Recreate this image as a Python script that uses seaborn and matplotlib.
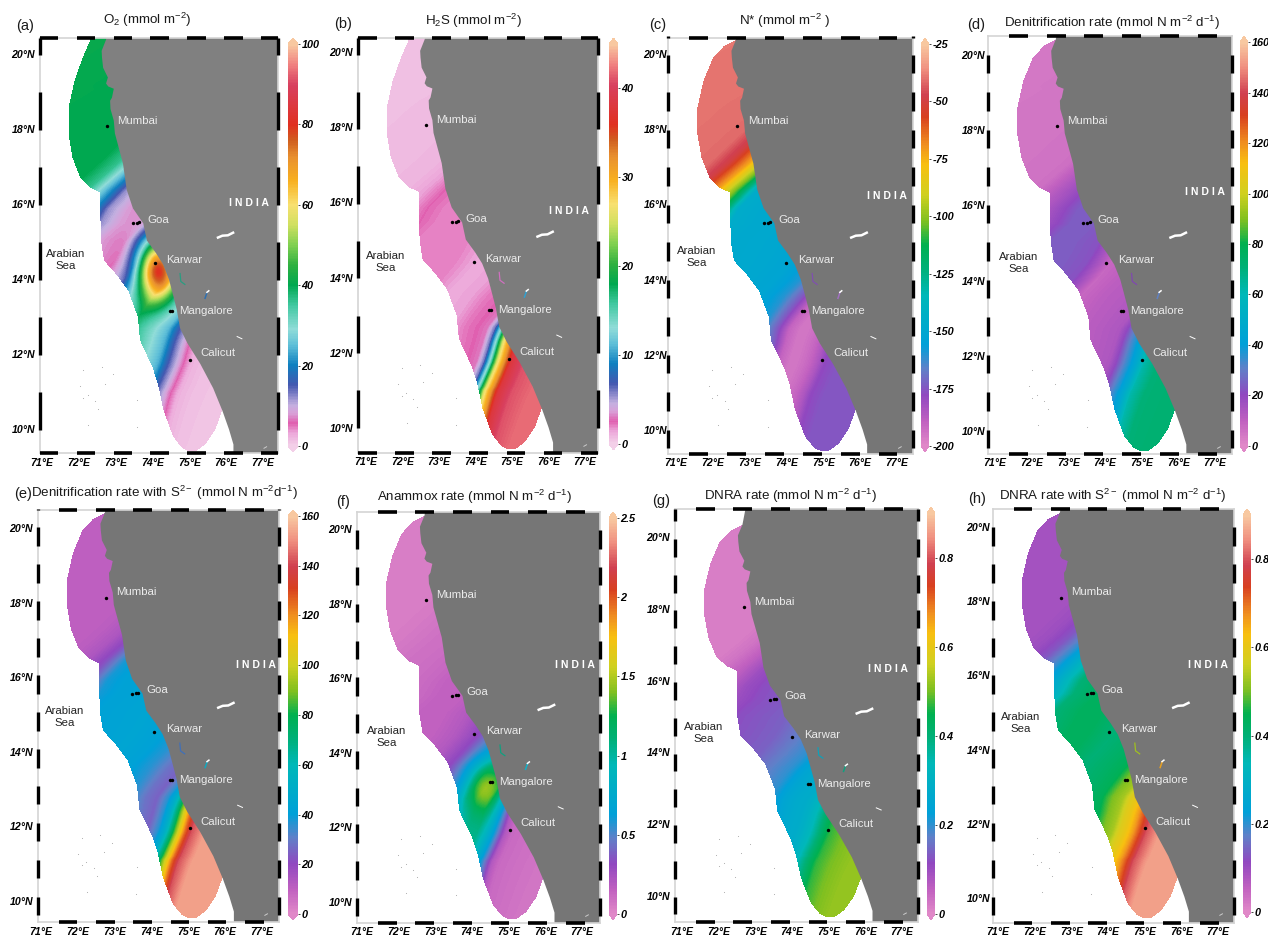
import numpy as np
import matplotlib
matplotlib.use("Agg")
import matplotlib.pyplot as plt
import seaborn as sns
from matplotlib.colors import LinearSegmentedColormap
from matplotlib.path import Path
from matplotlib.transforms import Affine2D, ScaledTranslation

plt.rcParams["font.family"] = ["Liberation Sans", "DejaVu Sans"]
plt.rcParams["mathtext.fontset"] = "custom"
plt.rcParams["mathtext.rm"] = "Liberation Sans"
plt.rcParams["mathtext.it"] = "Liberation Sans:italic"
plt.rcParams["mathtext.bf"] = "Liberation Sans:bold"
plt.rcParams["mathtext.default"] = "regular"

W, H = 1268, 936

# coastline (south to north)
coast_lat = [9.0, 9.6, 10.0, 10.5, 11.1, 11.75, 12.3, 12.7, 13.2, 13.7, 14.0, 14.4, 14.7, 15.04, 15.5, 15.9, 16.4, 17.09,
             17.9, 18.24, 18.55, 18.77, 18.85, 19.09, 19.15, 19.23, 19.39, 19.65, 19.92, 20.1, 20.4, 21.0]
coast_lon = [76.2, 76.2, 76.08, 75.9, 75.65, 75.3, 74.95, 74.75, 74.66, 74.53, 74.45, 74.29, 74.1, 73.85, 73.75, 73.47,
             73.3, 73.2, 72.98, 72.95, 72.86, 72.85, 72.9, 72.95, 72.8, 72.74, 72.79, 72.66, 72.63, 72.62, 72.74, 72.85]

# open-sea edge of the coloured domain, north lobe to the tip of the south lobe
edge_lat = [19.31, 18.59, 17.89, 17.25, 16.72, 16.45, 16.32, 16.1, 15.65, 15.0, 14.5, 14.15, 13.7, 13.0,
            12.37, 11.65, 11.2, 10.5, 9.8, 9.5, 9.4, 9.42, 9.6, 10.0, 10.5]
edge_lon = [71.87, 71.71, 71.71, 71.82, 72.03, 72.3, 72.58, 72.58, 72.58, 72.6, 72.68, 73.0, 73.34, 73.6,
            73.66, 74.0, 74.15, 74.3, 74.56, 74.8, 75.0, 75.2, 75.45, 75.72, 75.9]
tip_lat_ab = [20.5, 20.4, 19.92]
tip_lon_ab = [72.28, 72.3, 72.09]
tip_lat = [20.39, 20.25, 19.92]
tip_lon = [72.7, 72.42, 72.12]

# values along the coast, per panel
station_lat = [9.5, 11, 11.6, 12, 12.2, 12.4, 12.6, 12.8, 13, 13.3, 13.6, 14, 14.5, 15, 15.5, 16, 16.4, 16.8, 17.2, 17.6, 18, 19, 21]
vals_a = [0.5, 1, 1.5, 2.5, 5, 9, 13, 18, 24, 28, 32, 38, 26, 12, 6, 8, 12, 24, 36, 40, 40, 40, 41]
vals_b = [42, 42, 41, 38, 32, 26, 14, 6, 3, 2.5, 2.2, 1.5, 1.3, 2, 2, 2, 2.5, 1.5, 1, 0.9, 0.8, 0.7, 0.7]
vals_c = [-175, -175, -175, -178, -185, -190, -193, -195, -195, -190, -175, -160, -152, -150, -149, -148, -146, -105, -72, -50, -41, -40, -39]
vals_d = [72, 72, 71, 62, 48, 38, 30, 20, 14, 13, 12, 11, 8, 22, 24, 24, 18, 12, 6, 5, 5, 4.5, 4]
vals_e = [153, 153, 153, 142, 125, 100, 72, 50, 36, 25, 28, 36, 42, 44, 43, 42, 38, 22, 14, 11, 10, 10, 10]
vals_f = [0.05, 0.08, 0.1, 0.12, 0.2, 0.45, 0.7, 0.9, 1.05, 1.05, 0.95, 0.6, 0.32, 0.2, 0.15, 0.15, 0.12, 0.1, 0.09, 0.07, 0.05, 0.04, 0.04]
vals_g = [0.52, 0.52, 0.5, 0.47, 0.43, 0.38, 0.33, 0.3, 0.28, 0.27, 0.25, 0.2, 0.17, 0.14, 0.13, 0.12, 0.1, 0.06, 0.03, 0.015, 0.015, 0.015, 0.015]
vals_h = [0.86, 0.86, 0.86, 0.8, 0.73, 0.66, 0.61, 0.58, 0.53, 0.5, 0.44, 0.42, 0.4, 0.43, 0.43, 0.4, 0.3, 0.2, 0.13, 0.1, 0.09, 0.09, 0.09]

# local maxima that do not follow the coast: lon, lat, amplitude, width lon, width lat
hot_a = [74.12, 14.3, 52, 0.36, 0.55]
hot_f = [74.35, 13.0, 0.4, 0.35, 0.5]

titles = [r"O$_2$ (mmol m$^{-2}$)", r"H$_2$S (mmol m$^{-2}$)", r"N* (mmol m$^{-2}$ )",
          r"Denitrification rate (mmol N m$^{-2}$ d$^{-1}$)",
          r"Denitrification rate with S$^{2-}$ (mmol N m$^{-2}$d$^{-1}$)",
          r"Anammox rate (mmol N m$^{-2}$ d$^{-1}$)", r"DNRA rate (mmol N m$^{-2}$ d$^{-1}$)",
          r"DNRA rate with S$^{2-}$ (mmol N m$^{-2}$ d$^{-1}$)"]
letters = ["(a)", "(b)", "(c)", "(d)", "(e)", "(f)", "(g)", "(h)"]
cbar_lims = [(0, 100), (0, 45), (-200, -25), (0, 160), (0, 160), (0, 2.5), (0, 0.9), (0, 0.9)]
cbar_ticks = [[0, 20, 40, 60, 80, 100], [0, 10, 20, 30, 40], [-200, -175, -150, -125, -100, -75, -50, -25],
              [0, 20, 40, 60, 80, 100, 120, 140, 160], [0, 20, 40, 60, 80, 100, 120, 140, 160],
              [0, 0.5, 1, 1.5, 2, 2.5], [0, 0.2, 0.4, 0.6, 0.8], [0, 0.2, 0.4, 0.6, 0.8]]
lon_ticks = [71, 72, 73, 74, 75, 76, 77]
lat_ticks = [10, 12, 14, 16, 18, 20]
city_names = ["Mumbai", "Goa", "Karwar", "Mangalore", "Calicut"]
city_lon = [73.05, 73.85, 74.38, 74.72, 75.3]
city_lat = [18.24, 15.6, 14.53, 13.15, 12.03]
dot_lon = [72.77, 73.47, 73.58, 73.64, 74.07, 74.48, 74.53, 75.02]
dot_lat = [18.1, 15.5, 15.52, 15.53, 14.45, 13.15, 13.15, 11.85]
isle_lon = [72.12, 72.62, 72.93, 72.03, 72.71, 72.12, 72.24, 72.44, 72.53, 73.59, 72.26, 73.58]
isle_lat = [11.6, 11.68, 11.47, 11.17, 11.22, 10.85, 10.93, 10.77, 10.56, 10.8, 10.13, 10.08]

# pixel layout of the panels
frames = [(40, 278, 38, 453), (358, 598, 38, 453), (668, 913, 38, 454), (988, 1232, 36, 454),
          (38, 279, 510, 922), (357, 600, 512, 923), (675, 918, 509, 922), (993, 1234, 509, 923)]
lobe_px = [(40, 452), (40, 450), (40, 452), (40, 452), (513, 919), (516, 920), (525, 918), (513, 919)]
cbars = [(288, 298, 38, 452), (609, 618, 38, 450), (921, 929, 38, 452), (1240, 1248, 36, 452),
         (288, 298, 510, 920), (609, 617, 512, 920), (927, 935, 507, 920), (1243, 1251, 509, 918)]
lon_lab = [(42, 263, 463), (366, 585, 462), (676, 897, 463), (995, 1215, 463),
           (41, 262, 932), (362, 582, 932), (682, 902, 932), (998, 1218, 932)]
lat_lab = [(54, 429, 35), (52, 428, 353), (54, 430, 667), (55, 431, 985),
           (528, 901, 33), (529, 902, 352), (537, 896, 670), (527, 898, 990)]
title_px = [(147, 20), (473, 21), (785, 21), (1112, 23), (164, 493), (475, 497), (790, 496), (1113, 496)]
letter_px = [(25, 26), (343, 24), (658, 25), (976, 25), (23, 494), (343, 502), (661, 501), (977, 499)]
india_y = [203, 211, 196, 192, 665, 665, 669, 665]
india_x = [249, 569, 887, 1205, 256, 575, 888, 1208]
sea_px = [(66, 253), (386, 255), (697, 250), (1019, 256), (65, 710), (387, 730), (704, 726), (1021, 716)]
lake_colors = [("#2a9d80", "#2f70b0"), ("#d070c0", "#30a0d0"), ("#8050b0", "#a070c0"), ("#8048b0", "#6080c0"),
               ("#4070b8", "#10a8c0"), ("#10a080", "#10b0c8"), ("#10a0b8", "#10a080"), ("#a0c020", "#e8a020")]
land_colors = ["#808080", "#7c7c7c", "#767676", "#767676", "#767676", "#767676", "#767676", "#767676"]

cmap_ab = LinearSegmentedColormap.from_list("ab", [
    (0, "#f3cfe8"), (0.03, "#eca8da"), (0.055, "#e060b0"), (0.08, "#d8a0d8"), (0.10, "#c4b0e0"), (0.15, "#4458b0"),
    (0.20, "#0f80c0"), (0.25, "#60c0d8"), (0.29, "#90dcd8"), (0.35, "#40c8a0"), (0.40, "#00a850"), (0.45, "#30b040"),
    (0.50, "#80d050"), (0.55, "#d0e060"), (0.60, "#f8e070"), (0.66, "#f8b020"), (0.72, "#e89030"), (0.76, "#d06020"),
    (0.80, "#e03020"), (0.90, "#d84060"), (0.95, "#f08080"), (1, "#f8c8a0")])
cmap_main = LinearSegmentedColormap.from_list("main", [
    (0, "#e088c8"), (0.06, "#c060c0"), (0.125, "#9048c0"), (0.19, "#6080c8"), (0.25, "#00a0d8"), (0.375, "#00b8b8"),
    (0.44, "#00b078"), (0.50, "#00b050"), (0.56, "#80c020"), (0.625, "#d0d020"), (0.70, "#f8c010"), (0.75, "#f09020"),
    (0.82, "#d84020"), (0.875, "#d04050"), (0.94, "#f09080"), (1, "#f8c8a0")])

all_vals = [vals_a, vals_b, vals_c, vals_d, vals_e, vals_f, vals_g, vals_h]
all_hot = [hot_a, None, None, None, None, hot_f, None, None]

fig = plt.figure(figsize=(W / 100, H / 100), dpi=100, facecolor="white")
to_px = Affine2D().scale(1 / W, -1 / H).translate(0, 1) + fig.transFigure
XLIM = (70.946, 77.41)

domain_ab = Path(list(zip(tip_lon_ab + edge_lon, tip_lat_ab + edge_lat)) + [(78, 10.5), (78, 20.5)])
domain = Path(list(zip(tip_lon + edge_lon, tip_lat + edge_lat)) + [(78, 10.5), (78, 20.39)])


def rect(l, r, t, b):
    return [l / W, 1 - b / H, (r - l) / W, (b - t) / H]


def build_field(vals, hot, lon, lat, region):
    lo, la = np.meshgrid(lon, lat)
    offshore = np.clip(np.interp(la, coast_lat, coast_lon) - lo, 0, None)
    tilt = np.interp(la, [9, 11, 12.3, 13.6, 21], [1.4, 1.05, 1.1, 0.8, 0.7])
    field = np.interp(la + tilt * offshore, station_lat, vals)
    if hot is not None:
        field = field + hot[2] * np.exp(-((lo - hot[0]) / hot[3]) ** 2 / 2 - ((la - hot[1]) / hot[4]) ** 2 / 2)
    inside = region.contains_points(np.c_[lo.ravel(), la.ravel()]).reshape(lo.shape)
    return field, ~inside


def nudge(label, dx, dy):
    label.set_transform(label.get_transform() + ScaledTranslation(dx / 100, -dy / 100, fig.dpi_scale_trans))


for i in range(8):
    l, r, t, b = frames[i]
    top_px, bot_px = lobe_px[i]
    per_deg = (bot_px - top_px) / (20.39 - 9.4)
    ylim = (9.4 - (b - bot_px) / per_deg, 20.39 + (top_px - t) / per_deg)

    # colour field through seaborn, one cell per pixel
    lon = np.linspace(XLIM[0], XLIM[1], r - l)
    lat = np.linspace(ylim[1], ylim[0], b - t)
    field, mask = build_field(all_vals[i], all_hot[i], lon, lat, domain_ab if i < 2 else domain)
    ax = fig.add_axes(rect(l, r, t, b))
    cax = fig.add_axes(rect(*cbars[i]))
    sns.heatmap(field, ax=ax, cbar_ax=cax, mask=mask, cmap=cmap_ab if i < 2 else cmap_main,
                vmin=cbar_lims[i][0], vmax=cbar_lims[i][1], xticklabels=False, yticklabels=False,
                cbar_kws={"extend": "both", "extendfrac": 0.015, "ticks": cbar_ticks[i]})
    ax.axis("off")

    cbar = ax.collections[0].colorbar
    cbar.outline.set_visible(False)
    cbar.set_ticks(cbar_ticks[i], labels=[f"{v:g}" for v in cbar_ticks[i]])
    cbar.ax.tick_params(length=1.5, width=0.5, pad=1, labelsize=7.8)
    cbar.ax.minorticks_off()
    for lab in cbar.ax.get_yticklabels():
        lab.set_fontweight("bold")
        lab.set_fontstyle("italic")

    # map layer in degrees on top of the field
    geo = fig.add_axes(rect(l, r, t, b), facecolor="none")
    geo.set_xlim(XLIM)
    geo.set_ylim(ylim)
    geo.fill(coast_lon + [78, 78], coast_lat + [21, 9], color=land_colors[i], lw=0)
    geo.scatter(isle_lon, isle_lat, s=0.6, color="#aaaaaa", lw=0)
    geo.plot([75.78, 75.9, 76.05, 76.19], [15.12, 15.17, 15.18, 15.25], color="white", lw=1.8)
    geo.plot([74.75, 74.77, 74.88], [14.16, 13.95, 13.87], color=lake_colors[i][0], lw=0.9)
    geo.plot([75.48, 75.43], [13.65, 13.5], color=lake_colors[i][1], lw=1.1)
    geo.plot([75.48, 75.53], [13.66, 13.7], color="white", lw=1.1)
    geo.plot([76.3, 76.43], [12.48, 12.42], color="white", lw=0.7)
    geo.plot([77.03, 77.1], [9.5, 9.54], color="#cccccc", lw=0.7)
    geo.scatter(dot_lon, dot_lat, s=6, color="black", lw=0, zorder=5)
    for name, x, y in zip(city_names, city_lon, city_lat):
        geo.text(x, y, name, color="#ececec", fontsize=8.2, va="center", ha="left")
    geo.text(india_x[i], india_y[i], "I N D I A", color="white", fontsize=7.6, fontweight="bold",
             ha="center", va="center", transform=to_px)
    geo.text(sea_px[i][0], sea_px[i][1] + 7, "Arabian\nSea", color="#222222", fontsize=8.2, linespacing=1.15,
             ha="center", va="center", transform=to_px)

    # ticks with the labels shifted to where they sit on the page
    geo.set_xticks(lon_ticks, labels=[f"{v}\N{DEGREE SIGN}E" for v in lon_ticks])
    geo.set_yticks(lat_ticks, labels=[f"{v}\N{DEGREE SIGN}N" for v in lat_ticks])
    geo.tick_params(length=0, pad=0, labelsize=7.6)
    x0, x6, xy = lon_lab[i]
    y20, y10, yx = lat_lab[i]
    for v, lab in zip(lon_ticks, geo.get_xticklabels()):
        lab.set_fontweight("bold")
        lab.set_fontstyle("italic")
        want = x0 + (x6 - x0) * (v - 71) / 6
        have = l + (v - XLIM[0]) / (XLIM[1] - XLIM[0]) * (r - l)
        lab.set_verticalalignment("center")
        nudge(lab, want - have, xy - b)
    for v, lab in zip(lat_ticks, geo.get_yticklabels()):
        lab.set_fontweight("bold")
        lab.set_fontstyle("italic")
        want = y10 + (y20 - y10) * (v - 10) / 10
        have = t + (ylim[1] - v) / (ylim[1] - ylim[0]) * (b - t)
        nudge(lab, yx - l, want - have)

    for s in geo.spines.values():
        s.set_color("#d4d4d4")
        s.set_linewidth(1.2)

    # alternating black frame
    if i < 2:
        starts_x, starts_y = np.arange(70.946, 77.4, 1.0), np.arange(10, 21, 2.0)
        len_x, len_y = 0.5, 1.0
    else:
        starts_x, starts_y = np.arange(71.5, 77.4, 1.0), np.arange(9.5, 21, 1.0)
        len_x, len_y = 0.5, 0.5
    for sx in starts_x:
        for yy in ylim:
            geo.plot([sx, min(sx + len_x, XLIM[1])], [yy, yy], color="black", lw=2.6,
                     solid_capstyle="butt", clip_on=False, zorder=6)
    for sy in starts_y:
        for xx in XLIM:
            geo.plot([xx, xx], [max(sy, ylim[0]), min(sy + len_y, ylim[1])], color="black", lw=2.4,
                     solid_capstyle="butt", clip_on=False, zorder=6)
    geo.set_xlim(XLIM)
    geo.set_ylim(ylim)

    fig.text(title_px[i][0], title_px[i][1], titles[i], fontsize=9.6, color="#1a1a1a", ha="center", va="center",
             transform=to_px)
    fig.text(letter_px[i][0], letter_px[i][1], letters[i], fontsize=10.5, color="#1a1a1a", ha="center", va="center",
             transform=to_px)

fig.savefig("out.png", dpi=100, facecolor="white")
